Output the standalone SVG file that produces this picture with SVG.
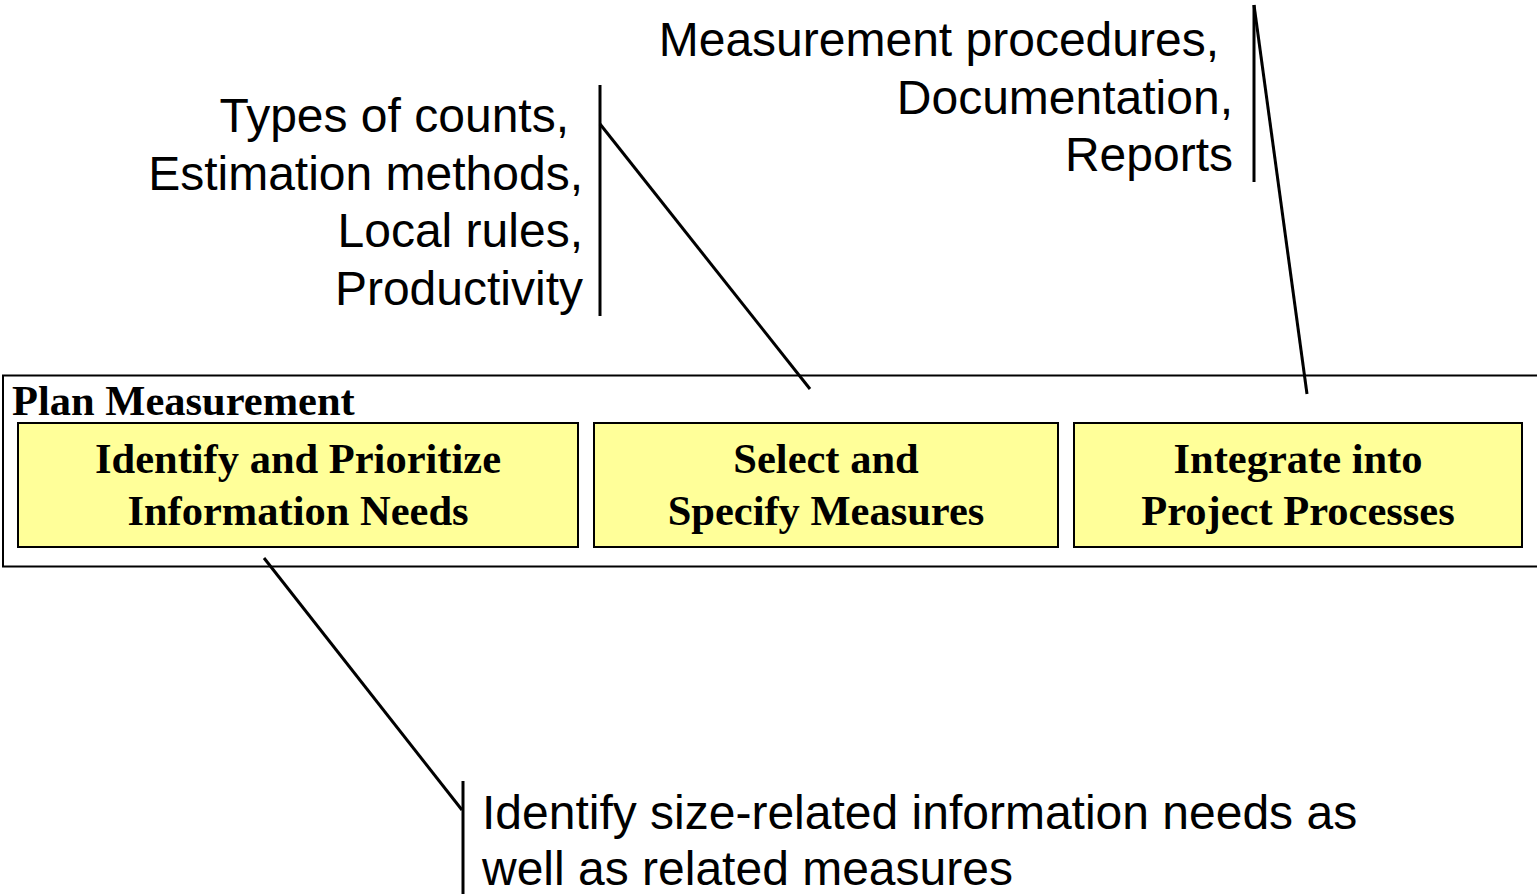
<svg xmlns="http://www.w3.org/2000/svg" width="1537" height="894" viewBox="0 0 1537 894">
<style>
.sans{font-family:"Liberation Sans",Arial,sans-serif;font-size:48px;fill:#000}
.serif{font-family:"Liberation Serif","Times New Roman",serif;font-weight:bold;font-size:42.5px;fill:#000}
.box{fill:#FFFF99;stroke:#000;stroke-width:2}
.line{stroke:#000;stroke-width:3;fill:none}
</style>
<rect width="1537" height="894" fill="#fff"/>
<g id="plan-measurement">
<rect x="3" y="375.5" width="1540" height="191" fill="none" stroke="#000" stroke-width="2"/>
<text class="serif" x="12" y="415" font-size="41.5">Plan Measurement</text>
</g>
<g id="identify">
<rect class="box" x="18" y="423" width="560" height="124"/>
<text class="serif" text-anchor="middle" x="298" y="473">Identify and Prioritize</text>
<text class="serif" text-anchor="middle" x="298" y="525">Information Needs</text>
</g>
<g id="select">
<rect class="box" x="594" y="423" width="464" height="124"/>
<text class="serif" text-anchor="middle" x="826" y="473">Select and</text>
<text class="serif" text-anchor="middle" x="826" y="525">Specify Measures</text>
</g>
<g id="integrate">
<rect class="box" x="1074" y="423" width="448" height="124"/>
<text class="serif" text-anchor="middle" x="1298" y="473">Integrate into</text>
<text class="serif" text-anchor="middle" x="1298" y="525">Project Processes</text>
</g>
<g id="note-counts">
<text class="sans" text-anchor="end" x="569" y="132">Types of counts,</text>
<text class="sans" text-anchor="end" x="583" y="190">Estimation methods,</text>
<text class="sans" text-anchor="end" x="583" y="247">Local rules,</text>
<text class="sans" text-anchor="end" x="583" y="305">Productivity</text>
</g>
<g id="note-procedures">
<text class="sans" text-anchor="end" x="1219" y="56">Measurement procedures,</text>
<text class="sans" text-anchor="end" x="1233" y="114">Documentation,</text>
<text class="sans" text-anchor="end" x="1233" y="171">Reports</text>
</g>
<g id="note-size">
<text class="sans" x="482" y="829">Identify size-related information needs as</text>
<text class="sans" x="482" y="885">well as related measures</text>
</g>
<g id="connectors">
<line class="line" x1="600" y1="85" x2="600" y2="316"/>
<line class="line" x1="600" y1="124" x2="810" y2="389"/>
<line class="line" x1="1254" y1="5" x2="1254" y2="182"/>
<line class="line" x1="1254" y1="5" x2="1307" y2="394"/>
<line class="line" x1="463" y1="781" x2="463" y2="894"/>
<line class="line" x1="264" y1="558" x2="462" y2="810"/>
</g>
</svg>
